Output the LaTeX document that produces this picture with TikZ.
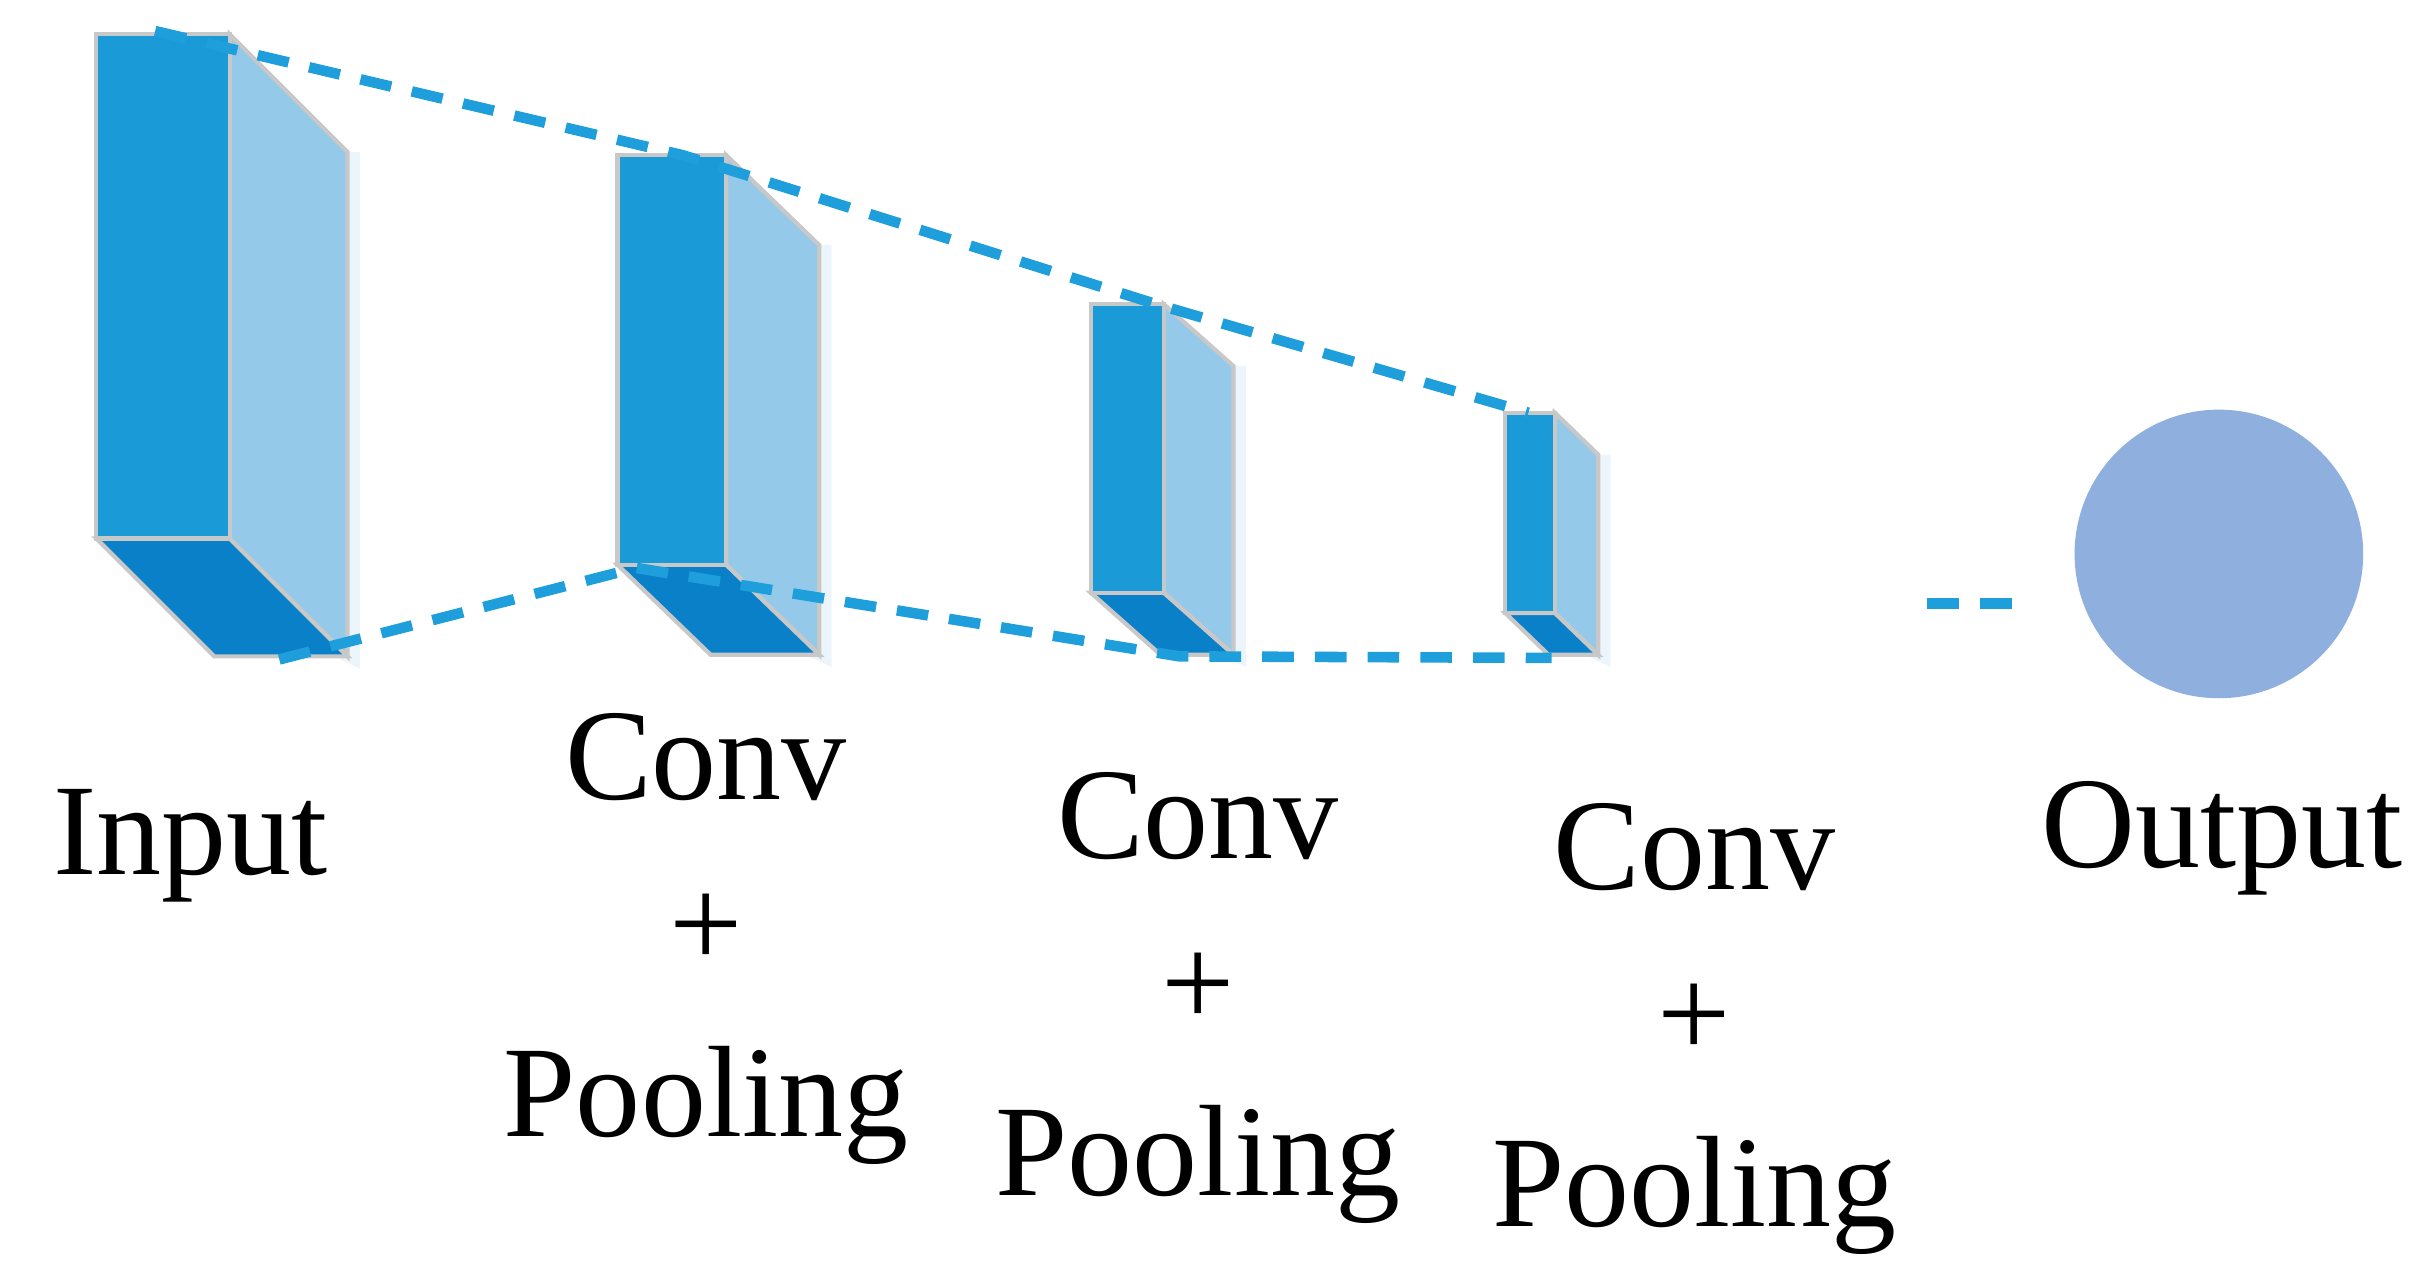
\documentclass[tikz,border=0pt]{standalone}
\usepackage{fontspec}
\setmainfont{Liberation Serif}
\begin{document}
\begin{tikzpicture}[x=0.01552cm,y=-0.01552cm,
  front/.style={fill=frontc,draw=edgec,line width=1.2pt},
  side/.style={fill=sidec,draw=edgec,line width=1.2pt},
  bot/.style={fill=botc,draw=edgec,line width=1.2pt},
  dashline/.style={draw=dashc,line width=3pt,dash pattern=on 9pt off 6pt},
  lab/.style={font=\fontsize{37}{40}\selectfont,align=center,inner sep=0pt}]
\definecolor{frontc}{HTML}{1A9BD7}
\definecolor{sidec}{HTML}{94C9EA}
\definecolor{botc}{HTML}{0A80C9}
\definecolor{edgec}{HTML}{C8C8C8}
\definecolor{dashc}{HTML}{1E9FDC}
\definecolor{outc}{HTML}{8FB0DE}
\useasboundingbox (0,0) rectangle (1568,823);
\newcommand\mybox[6]{%
  \fill[sidec!35,opacity=0.5] (#1-4,#4) -- (#2+#5+8,#4+#6+8) -- (#2+#5+8,#3+#6) -- (#2+#5,#3+#6) -- (#2+#5,#4+#6) -- cycle;
  \draw[side] (#2,#3) -- (#2+#5,#3+#6) -- (#2+#5,#4+#6) -- (#2,#4) -- cycle;
  \draw[bot] (#1,#4) -- (#2,#4) -- (#2+#5,#4+#6) -- (#1+#5,#4+#6) -- cycle;
  \draw[front] (#1,#3) rectangle (#2,#4);}
\mybox{62}{148}{22}{347}{76}{76}
\mybox{398}{468}{100}{364}{60}{58}
\mybox{703}{750}{196}{382}{45}{40}
\mybox{970}{1002}{266}{395}{28}{27}
\coordinate (t1) at (100,20); \coordinate (t2) at (440,100);
\coordinate (t3) at (745,196); \coordinate (t4) at (985,266);
\coordinate (b1) at (180,425); \coordinate (b2) at (410,366);
\coordinate (b3) at (760,423); \coordinate (b4) at (1000,424);
\draw[dashline] (t1) -- (t2) -- (t3) -- (t4);
\draw[dashline] (b1) -- (b2) -- (b3) -- (b4);
\coordinate (d1) at (1242,389); \coordinate (d2) at (1300,389);
\draw[dashline] (d1) -- (d2);
\node[circle,minimum size=186*0.01552cm,inner sep=0pt,fill=outc] (out) at (1430,357) {};
\node[lab] (in) at (123,545) {Input};
\node[lab] (c1) at (455,605) {Conv\\[8pt]+\\[8pt]Pooling};
\node[lab] (c2) at (772,643) {Conv\\[8pt]+\\[8pt]Pooling};
\node[lab] (c3) at (1092,663) {Conv\\[8pt]+\\[8pt]Pooling};
\node[lab] (o) at (1432,540) {Output};
\end{tikzpicture}
\end{document}
